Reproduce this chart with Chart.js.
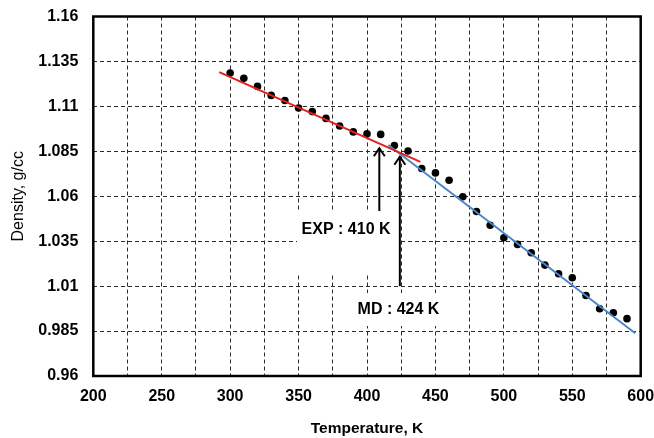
<!DOCTYPE html>
<html>
<head>
<meta charset="utf-8">
<title>Density vs Temperature</title>
<script src="https://cdn.jsdelivr.net/npm/chart.js@4.4.1/dist/chart.umd.min.js"></script>
<style>
    html, body { margin: 0; padding: 0; background: #fff; }
    #wrap { width: 654px; height: 438px; }
</style>
</head>
<body>
<div id="wrap"><canvas id="densityChart" width="654" height="438"></canvas></div>
<script>
// Measured density points (K, g/cc)
const temperatures = [300, 310, 320, 330, 340, 350, 360, 370, 380, 390,
                      400, 410, 420, 430, 440, 450, 460, 470, 480, 490,
                      500, 510, 520, 530, 540, 550, 560, 570, 580, 590];
const densities = [1.1286, 1.1256, 1.1211, 1.1161, 1.1133, 1.1091, 1.1071, 1.1033, 1.0991, 1.0958,
                   1.0947, 1.0944, 1.0882, 1.0852, 1.0754, 1.0730, 1.0689, 1.0597, 1.0515, 1.0439,
                   1.0369, 1.0332, 1.0286, 1.0217, 1.0169, 1.0147, 1.0048, 0.9974, 0.9952, 0.9919];

// Fit lines (low temperature = red, high temperature = blue)
const lowFitT = [292, 439];
const lowFitD = [1.1291, 1.0791];
const highFitT = [415.6, 596];
const highFitD = [1.0885, 0.9838];

// Axis ticks
const xTicks = [200, 225, 250, 275, 300, 325, 350, 375, 400, 425, 450, 475, 500, 525, 550, 575, 600];
const xTickLabels = ['200', '', '250', '', '300', '', '350', '', '400', '', '450', '', '500', '', '550', '', '600'];
const yTicks = [0.96, 0.985, 1.01, 1.035, 1.06, 1.085, 1.11, 1.135, 1.16];
const yTickLabels = ['0.96', '0.985', '1.01', '1.035', '1.06', '1.085', '1.11', '1.135', '1.16'];

// Transition markers: arrow at temperature, from base density up to tip density
const markerTexts = ['EXP : 410 K', 'MD : 424 K'];
const markerT = [409, 424];
const markerBaseD = [1.0518, 1.0100];
const markerTipD = [1.0867, 1.0820];
const markerLabelT = [384.7, 423.0];
const markerLabelD = [1.0412, 0.9967];

// white box behind each marker label (pixels around label centre)
const labelBoxes = [
    { left: 49, right: 52, up: 18, down: 43 },
    { left: 53, right: 53, up: 17, down: 16 }
];

const FONT = '"Liberation Sans", Arial, sans-serif';

const markerPlugin = {
    id: 'markerPlugin',
    beforeDatasetsDraw(chart) {
        const ctx = chart.ctx;
        const xs = chart.scales.x, ys = chart.scales.y;
        ctx.save();
        ctx.fillStyle = '#fff';
        markerTexts.forEach((t, i) => {
            const cx = xs.getPixelForValue(markerLabelT[i]);
            const cy = ys.getPixelForValue(markerLabelD[i]);
            const b = labelBoxes[i];
            ctx.fillRect(cx - b.left, cy - b.up, b.left + b.right, b.up + b.down);
        });
        ctx.restore();
    },
    afterDatasetsDraw(chart) {
        const ctx = chart.ctx;
        const xs = chart.scales.x, ys = chart.scales.y;
        ctx.save();
        ctx.strokeStyle = '#000';
        ctx.lineWidth = 2;
        markerT.forEach((t, i) => {
            const x = xs.getPixelForValue(t);
            const y0 = ys.getPixelForValue(markerBaseD[i]);
            const y1 = ys.getPixelForValue(markerTipD[i]);
            ctx.beginPath();
            ctx.moveTo(x, y0);
            ctx.lineTo(x, y1);
            ctx.stroke();
            // open arrow head
            ctx.beginPath();
            ctx.moveTo(x - 5.5, y1 + 8);
            ctx.lineTo(x, y1);
            ctx.lineTo(x + 5.5, y1 + 8);
            ctx.stroke();
        });
        ctx.fillStyle = '#000';
        ctx.font = 'bold 16px ' + FONT;
        ctx.textAlign = 'center';
        ctx.textBaseline = 'middle';
        markerTexts.forEach((txt, i) => {
            ctx.fillText(txt, xs.getPixelForValue(markerLabelT[i]), ys.getPixelForValue(markerLabelD[i]));
        });
        ctx.restore();
    },
    afterDraw(chart) {
        // plot frame
        const a = chart.chartArea;
        const ctx = chart.ctx;
        ctx.save();
        ctx.strokeStyle = '#000';
        ctx.lineWidth = 2.5;
        ctx.strokeRect(a.left, a.top, a.right - a.left, a.bottom - a.top);
        ctx.restore();
    }
};

const canvas = document.getElementById('densityChart');
new Chart(canvas, {
    type: 'scatter',
    data: {
        datasets: [
            {
                label: 'Low T fit',
                data: lowFitT.map((t, i) => ({ x: t, y: lowFitD[i] })),
                showLine: true,
                borderColor: '#e3211c',
                borderWidth: 2,
                pointRadius: 0,
                order: 0
            },
            {
                label: 'High T fit',
                data: highFitT.map((t, i) => ({ x: t, y: highFitD[i] })),
                showLine: true,
                borderColor: '#4a86c5',
                borderWidth: 2,
                pointRadius: 0,
                order: 0
            },
            {
                label: 'Density',
                data: temperatures.map((t, i) => ({ x: t, y: densities[i] })),
                backgroundColor: '#000',
                borderColor: '#000',
                pointRadius: 3.8,
                borderWidth: 0,
                order: 1
            }
        ]
    },
    options: {
        responsive: false,
        animation: false,
        layout: { padding: { top: 16.5, right: 13.3, bottom: 0, left: 0 } },
        plugins: {
            legend: { display: false },
            tooltip: { enabled: false }
        },
        scales: {
            x: {
                type: 'linear',
                min: 200,
                max: 600,
                afterBuildTicks: (scale) => { scale.ticks = xTicks.map(v => ({ value: v })); },
                afterFit: (scale) => {
                    scale.height = 62;
                    scale.paddingLeft = 0;
                    scale.paddingRight = 0;
                },
                ticks: {
                    autoSkip: false,
                    maxRotation: 0,
                    padding: 11,
                    color: '#000',
                    font: { family: FONT, size: 16, weight: 'bold' },
                    callback: (v) => xTickLabels[xTicks.indexOf(v)]
                },
                grid: { color: '#2a2a2a', lineWidth: 1, drawTicks: false },
                border: { display: false, dash: [4, 3] },
                title: {
                    display: true,
                    text: 'Temperature, K',
                    color: '#000',
                    font: { family: FONT, size: 15.5, weight: 'bold' },
                    padding: { top: 0, bottom: 0 }
                }
            },
            y: {
                type: 'linear',
                min: 0.96,
                max: 1.16,
                afterBuildTicks: (scale) => { scale.ticks = yTicks.map(v => ({ value: v })); },
                afterFit: (scale) => {
                    scale.width = 93.3;
                    scale.paddingTop = 0;
                    scale.paddingBottom = 0;
                },
                ticks: {
                    padding: 15,
                    color: '#000',
                    font: { family: FONT, size: 16, weight: 'bold' },
                    callback: (v) => yTickLabels[yTicks.indexOf(v)]
                },
                grid: { color: '#2a2a2a', lineWidth: 1, drawTicks: false },
                border: { display: false, dash: [4, 3] },
                title: {
                    display: true,
                    text: 'Density, g/cc',
                    color: '#000',
                    font: { family: FONT, size: 16, weight: 'normal' },
                    padding: { top: 9, bottom: 0 }
                }
            }
        }
    },
    plugins: [markerPlugin]
});
</script>
</body>
</html>
